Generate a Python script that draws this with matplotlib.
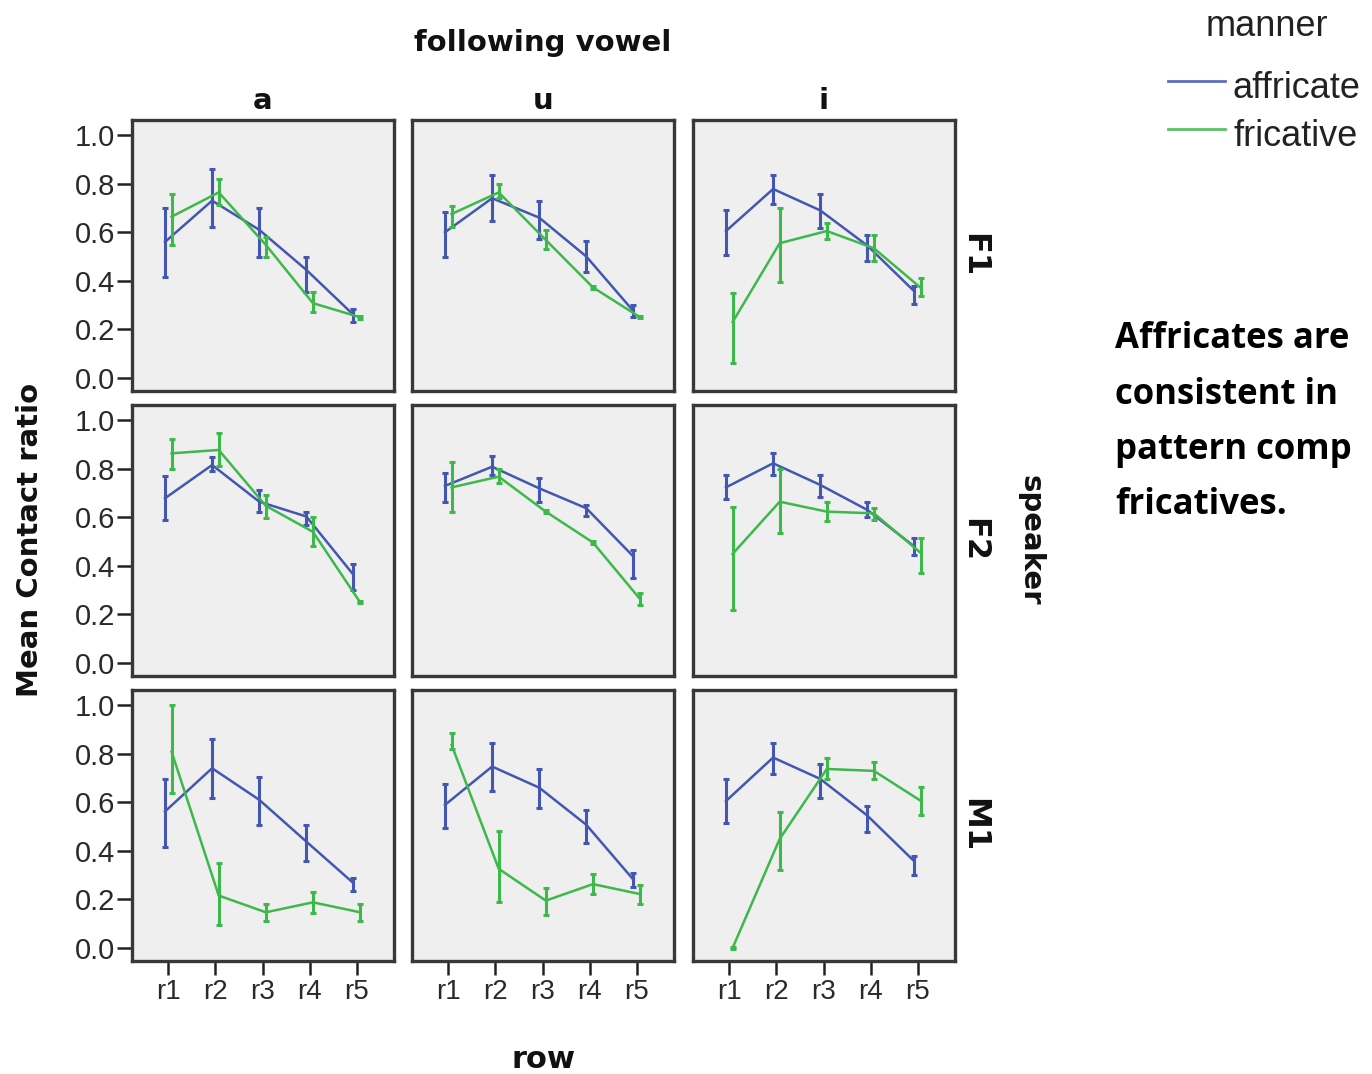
import matplotlib
matplotlib.use("Agg")
import matplotlib.pyplot as plt
from matplotlib.lines import Line2D

# ---- data -------------------------------------------------------------
rows = ["r1", "r2", "r3", "r4", "r5"]
vowels = ["a", "u", "i"]
speakers = ["F1", "F2", "M1"]
manners = ["affricate", "fricative"]

# each list holds one sub-list per vowel (a, u, i), values per row r1..r5
aff_mean_F1 = [[0.56, 0.73, 0.61, 0.445, 0.26], [0.60, 0.74, 0.66, 0.50, 0.275], [0.605, 0.778, 0.69, 0.545, 0.356]]
aff_lo_F1 = [[0.415, 0.62, 0.50, 0.356, 0.23], [0.50, 0.647, 0.573, 0.436, 0.25], [0.507, 0.715, 0.616, 0.48, 0.304]]
aff_hi_F1 = [[0.70, 0.86, 0.70, 0.50, 0.284], [0.685, 0.836, 0.729, 0.564, 0.30], [0.69, 0.836, 0.758, 0.59, 0.377]]
fric_mean_F1 = [[0.664, 0.764, 0.548, 0.308, 0.25], [0.675, 0.764, 0.568, 0.373, 0.25], [0.23, 0.555, 0.605, 0.534, 0.37]]
fric_lo_F1 = [[0.548, 0.712, 0.50, 0.27, 0.244], [0.623, 0.74, 0.53, 0.368, 0.245], [0.062, 0.397, 0.573, 0.48, 0.336]]
fric_hi_F1 = [[0.757, 0.818, 0.58, 0.352, 0.256], [0.71, 0.80, 0.61, 0.378, 0.255], [0.35, 0.70, 0.637, 0.59, 0.41]]

aff_mean_F2 = [[0.678, 0.815, 0.664, 0.603, 0.363], [0.729, 0.808, 0.719, 0.637, 0.438], [0.723, 0.822, 0.733, 0.63, 0.479]]
aff_lo_F2 = [[0.59, 0.79, 0.623, 0.568, 0.30], [0.664, 0.774, 0.664, 0.605, 0.35], [0.674, 0.774, 0.685, 0.603, 0.445]]
aff_hi_F2 = [[0.77, 0.85, 0.712, 0.623, 0.407], [0.784, 0.852, 0.76, 0.65, 0.466], [0.774, 0.863, 0.774, 0.664, 0.514]]
fric_mean_F2 = [[0.863, 0.877, 0.647, 0.54, 0.25], [0.723, 0.767, 0.623, 0.496, 0.263], [0.449, 0.664, 0.623, 0.616, 0.452]]
fric_lo_F2 = [[0.80, 0.81, 0.596, 0.48, 0.245], [0.62, 0.74, 0.618, 0.491, 0.24], [0.219, 0.537, 0.586, 0.589, 0.37]]
fric_hi_F2 = [[0.92, 0.945, 0.69, 0.60, 0.255], [0.829, 0.80, 0.628, 0.501, 0.288], [0.644, 0.80, 0.664, 0.637, 0.514]]

aff_mean_M1 = [[0.562, 0.74, 0.61, 0.438, 0.267], [0.589, 0.747, 0.66, 0.507, 0.281], [0.605, 0.784, 0.696, 0.545, 0.356]]
aff_lo_M1 = [[0.414, 0.616, 0.507, 0.359, 0.233], [0.493, 0.647, 0.578, 0.432, 0.253], [0.514, 0.715, 0.616, 0.479, 0.301]]
aff_hi_M1 = [[0.696, 0.859, 0.705, 0.507, 0.288], [0.675, 0.842, 0.737, 0.566, 0.308], [0.696, 0.842, 0.756, 0.586, 0.377]]
fric_mean_M1 = [[0.808, 0.216, 0.147, 0.188, 0.147], [0.836, 0.326, 0.195, 0.263, 0.222], [0.0, 0.449, 0.737, 0.729, 0.605]]
fric_lo_M1 = [[0.64, 0.096, 0.112, 0.144, 0.112], [0.82, 0.189, 0.137, 0.222, 0.18], [-0.005, 0.322, 0.696, 0.695, 0.548]]
fric_hi_M1 = [[1.0, 0.349, 0.18, 0.23, 0.18], [0.884, 0.482, 0.247, 0.304, 0.26], [0.005, 0.558, 0.784, 0.764, 0.664]]

yticks = [0.0, 0.2, 0.4, 0.6, 0.8, 1.0]
note_lines = ["Affricates are", "consistent in", "pattern comp", "fricatives."]

series = {
    "F1": [(aff_mean_F1, aff_lo_F1, aff_hi_F1), (fric_mean_F1, fric_lo_F1, fric_hi_F1)],
    "F2": [(aff_mean_F2, aff_lo_F2, aff_hi_F2), (fric_mean_F2, fric_lo_F2, fric_hi_F2)],
    "M1": [(aff_mean_M1, aff_lo_M1, aff_hi_M1), (fric_mean_M1, fric_lo_M1, fric_hi_M1)],
}

# ---- styling ----------------------------------------------------------
W, H = 1372, 1074
colors = ["#4357B0", "#3CB94A"]
offsets = [-0.07, 0.07]
panel_bg = "#EFEFEF"
frame = "#383838"
tick_font = "Liberation Sans"
bold_font = "DejaVu Sans"

fig = plt.figure(figsize=(W / 100, H / 100), dpi=100)
fig.patch.set_facecolor("white")

col_left = [132, 412, 693]
row_bottom = [391, 676, 961]
pw, ph = 262, 271


def fx(x):
    return x / W


def fy(y):
    return 1 - y / H


xpos = list(range(1, len(rows) + 1))

for r, spk in enumerate(speakers):
    for c, vow in enumerate(vowels):
        ax = fig.add_axes([fx(col_left[c]), fy(row_bottom[r]), pw / W, ph / H])
        ax.set_facecolor(panel_bg)
        for k, (m, lo, hi) in enumerate(series[spk]):
            mean = m[c]
            lower = [mv - lv for mv, lv in zip(mean, lo[c])]
            upper = [hv - mv for mv, hv in zip(mean, hi[c])]
            xs = [x + offsets[k] for x in xpos]
            ax.errorbar(xs, mean, yerr=[lower, upper], color=colors[k],
                        lw=1.8, elinewidth=2.2, capsize=2.5, capthick=2.2,
                        zorder=3 + k)
        ax.set_xlim(0.23, 5.79)
        ax.set_ylim(-0.0535, 1.062)
        for s in ax.spines.values():
            s.set_color(frame)
            s.set_linewidth(2.4)
        ax.tick_params(which="both", direction="out", color="#222222",
                       width=1.8, labelcolor="#2a2a2a")
        if c == 0:
            ax.set_yticks(yticks)
            ax.set_yticklabels([f"{v:.1f}" for v in yticks],
                               fontfamily=tick_font, fontsize=21)
            ax.tick_params(axis="y", length=11, pad=1)
        else:
            ax.set_yticks([])
        if r == len(speakers) - 1:
            ax.set_xticks(xpos)
            ax.set_xticklabels(rows, fontfamily=tick_font, fontsize=20)
            ax.tick_params(axis="x", length=10, pad=3)
        else:
            ax.set_xticks([])

# ---- facet labels and axis titles -------------------------------------
title_kw = dict(fontfamily=bold_font, fontweight="bold", fontsize=21,
                color="#111111")
for c, vow in enumerate(vowels):
    fig.text(fx(col_left[c] + pw / 2), fy(101), vow, ha="center",
             va="center", **title_kw)
for r, spk in enumerate(speakers):
    fig.text(fx(974), fy(row_bottom[r] - ph / 2), spk, ha="center",
             va="center", rotation=270,
             **{**title_kw, "fontsize": 23})

fig.text(fx(543), fy(43), "following vowel", ha="center", va="center",
         **title_kw)
fig.text(fx(543), fy(1060), "row", ha="center", va="center",
         **{**title_kw, "fontsize": 22})
fig.text(fx(30), fy(540), "Mean Contact ratio", ha="center", va="center",
         rotation=90, **title_kw)
fig.text(fx(1030), fy(540), "speaker", ha="center", va="center",
         rotation=270, **title_kw)

# ---- legend -----------------------------------------------------------
legend_kw = dict(fontfamily=tick_font, fontsize=26, color="#222222")
fig.text(fx(1267), fy(36), "manner", ha="center", va="baseline", **legend_kw)
for k, (name, yy, yb) in enumerate(zip(manners, [81, 129], [98, 146])):
    fig.add_artist(Line2D([fx(1168), fx(1225)], [fy(yy), fy(yy)],
                          color=colors[k], lw=2.0, alpha=0.85))
    fig.text(fx(1233), fy(yb), name, ha="left", va="baseline", **legend_kw)

# ---- annotation -------------------------------------------------------
for i, line in enumerate(note_lines):
    fig.text(fx(1115), fy(348 + i * 55.5), line, ha="left", va="baseline",
             fontfamily="Open Sans", fontweight="bold", fontsize=25,
             color="black")

fig.savefig("out.png", dpi=100)
